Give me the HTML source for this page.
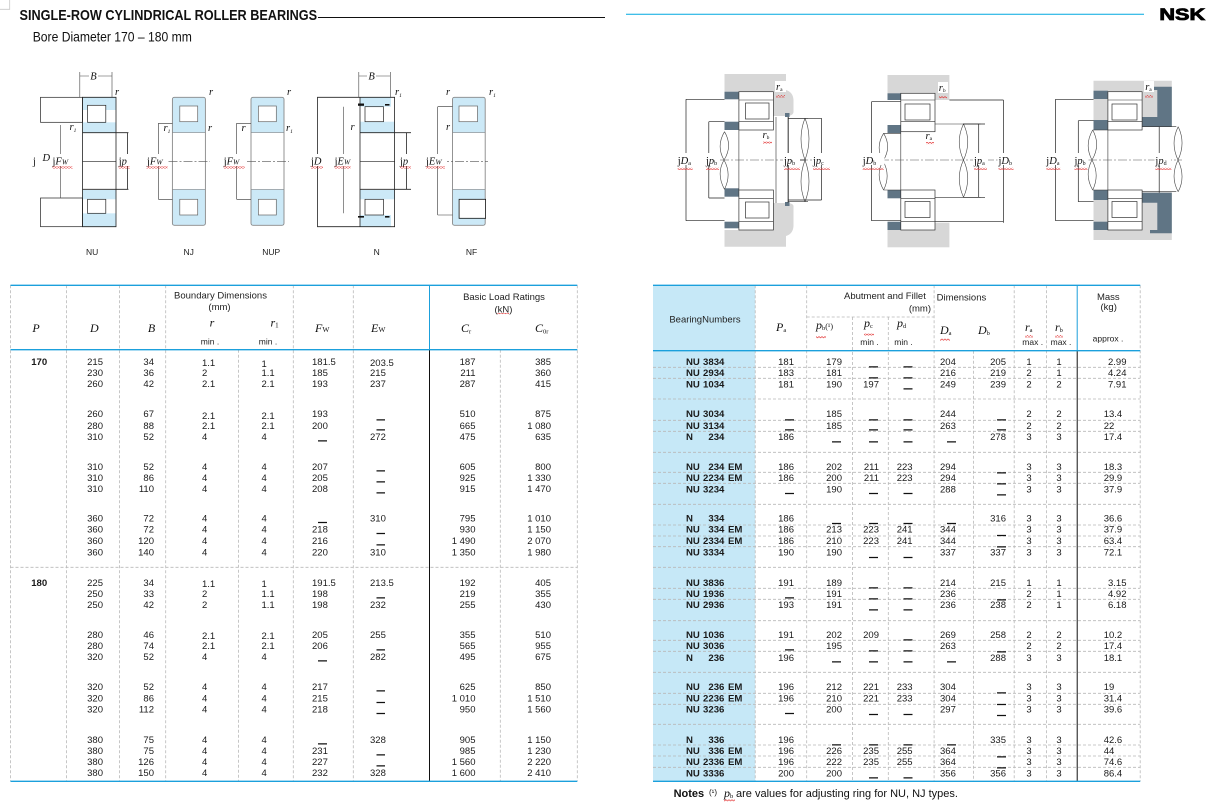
<!DOCTYPE html>
<html><head><meta charset="utf-8">
<style>
html,body{margin:0;padding:0;background:#fff;}
body{width:1206px;height:805px;overflow:hidden;position:relative;}
svg{position:absolute;left:0;top:0;}
.n{font-family:"Liberation Sans",Arial,sans-serif;font-size:9.5px;fill:#1a1a1a;}
.b{font-family:"Liberation Sans",Arial,sans-serif;font-size:9.6px;font-weight:bold;fill:#1a1a1a;}
.s{font-family:"Liberation Serif",serif;font-style:italic;font-size:12px;fill:#111;}
.h{font-family:"Liberation Sans",Arial,sans-serif;font-size:9.5px;fill:#222;}
.m{font-family:"Liberation Sans",Arial,sans-serif;font-size:8.5px;fill:#222;}
.lb{font-family:"Liberation Serif",serif;font-size:10.5px;fill:#111;}
.it{font-style:italic;}
.dg{font-family:"Liberation Sans",Arial,sans-serif;font-size:8.5px;fill:#222;}
</style></head><body>
<svg width="1206" height="805" viewBox="0 0 1206 805">
<defs>
<pattern id="wv" width="3" height="2.4" patternUnits="userSpaceOnUse"><path d="M0 0.5L1.5 1.9L3 0.5" fill="none" stroke="#e02020" stroke-width="0.6"/></pattern>
</defs>

<!-- corner mark -->
<path d="M9.7 0V9.3H0" fill="none" stroke="#c8c8c8" stroke-width="0.8"/>

<!-- Title -->
<text transform="translate(19.5,20) scale(0.875,1)" font-family="Liberation Sans, Arial, sans-serif" font-size="14.5" font-weight="bold" fill="#111">SINGLE-ROW CYLINDRICAL ROLLER BEARINGS</text>
<line x1="318" y1="17.5" x2="605" y2="17.5" stroke="#111" stroke-width="1"/>
<text transform="translate(32.7,41.7) scale(0.9,1)" font-family="Liberation Sans, Arial, sans-serif" font-size="13.5" fill="#111">Bore Diameter  170 – 180 mm</text>

<line x1="626" y1="14.3" x2="1144" y2="14.3" stroke="#00a8e0" stroke-width="1"/>
<text transform="translate(1159.4,20) scale(1.33,1)" font-family="Liberation Sans, Arial, sans-serif" font-size="16.3" font-weight="bold" fill="#000" stroke="#000" stroke-width="0.8">NSK</text>

<!-- ============ LEFT DIAGRAMS ============ -->
<!-- NU -->
<g>
<rect x="79.8" y="97.3" width="36.2" height="12.7" fill="#cce9f7"/>
<rect x="82.5" y="122.3" width="33.5" height="10.4" fill="#cce9f7"/>
<rect x="82.5" y="190" width="33.5" height="9.3" fill="#cce9f7"/>
<rect x="79.8" y="213.3" width="36.2" height="13.4" fill="#cce9f7"/>
<g fill="#fff" stroke="#222" stroke-width="0.7">
<rect x="87.5" y="105.3" width="18.3" height="17"/>
<rect x="87.5" y="199.3" width="18.3" height="14"/>
<rect x="40.5" y="97.3" width="42" height="25"/>
<rect x="40.5" y="198" width="42" height="28.7"/>
</g>
<path d="M82.5 97.3H116V226.7H82.5ZM82.5 132.7H128.4M82.5 189.3H128.4M127.6 132.7V189.3" fill="none" stroke="#222" stroke-width="0.8"/>
<path d="M82.5 161.3H116" stroke="#222" stroke-width="0.6"/>
<path d="M60.3 125V198M79.8 72V97M112 72V97M79.8 76H112" fill="none" stroke="#444" stroke-width="0.6"/>
<rect x="89" y="70" width="9" height="11" fill="#fff"/>
<text x="93.4" y="79.5" class="lb it" text-anchor="middle">B</text>
<text x="115" y="95" class="lb it" font-size="7.5">r</text>
<text x="69.5" y="130" class="lb it" font-size="7.5">r<tspan font-size="5.5" dy="2">1</tspan></text>
<rect x="31" y="154" width="44" height="12" fill="#fff"/>
<text x="33" y="164.5" class="lb">j</text>
<text x="42.5" y="161" class="lb it" font-size="7">D</text>
<text x="52.5" y="164.5" class="lb">j<tspan class="it">F</tspan><tspan class="it" font-size="7.5">W</tspan></text>
<rect x="117" y="154" width="12" height="12" fill="#fff"/>
<text x="118.7" y="164.5" class="lb">j<tspan class="it">p</tspan></text>
<rect x="52.5" y="166.5" width="20" height="2.4" fill="url(#wv)"/>
<rect x="118.7" y="166.5" width="11" height="2.4" fill="url(#wv)"/>
</g>

<!-- NJ -->
<g>
<rect x="172.4" y="97.3" width="33" height="35.4" fill="#cce9f7"/>
<rect x="172.4" y="189.3" width="33" height="36" fill="#cce9f7"/>
<g fill="#fff" stroke="#666" stroke-width="0.7">
<rect x="179.8" y="106" width="17.9" height="15.7"/>
<rect x="179.8" y="199.3" width="17.9" height="15.7"/>
</g>
<rect x="172.4" y="97.3" width="33" height="128" rx="2" fill="none" stroke="#888" stroke-width="0.9"/>
<path d="M172.4 132.7H205.4M172.4 189.3H205.4" stroke="#888" stroke-width="0.6"/>
<path d="M168.5 161.3H210" stroke="#555" stroke-width="0.6" stroke-dasharray="9,2,2,2"/>
<path d="M158.4 123.3V199.3M158.4 123.3H172.4M158.4 199.3H172.4" fill="none" stroke="#333" stroke-width="0.6"/>
<text x="209" y="95" class="lb it" font-size="7.5">r</text>
<text x="163.5" y="131" class="lb it" font-size="7.5">r<tspan font-size="5.5" dy="2">1</tspan></text>
<text x="208" y="131" class="lb it" font-size="7.5">r</text>
<rect x="146" y="154" width="22" height="12" fill="#fff"/>
<text x="147" y="164.5" class="lb">j<tspan class="it">F</tspan><tspan class="it" font-size="7.5">W</tspan></text>
<rect x="146.6" y="166.5" width="21" height="2.4" fill="url(#wv)"/>
</g>

<!-- NUP -->
<g>
<rect x="251" y="97.3" width="33" height="35.4" fill="#cce9f7"/>
<rect x="251" y="189.3" width="33" height="36" fill="#cce9f7"/>
<g fill="#fff" stroke="#666" stroke-width="0.7">
<rect x="258.4" y="106" width="17.9" height="15.7"/>
<rect x="258.4" y="199.3" width="17.9" height="15.7"/>
</g>
<rect x="251" y="97.3" width="33" height="128" rx="2" fill="none" stroke="#888" stroke-width="0.9"/>
<path d="M251 132.7H284M251 189.3H284" stroke="#888" stroke-width="0.6"/>
<path d="M247 161.3H289" stroke="#555" stroke-width="0.6" stroke-dasharray="9,2,2,2"/>
<path d="M236.6 123.3V199.3M236.6 123.3H251M236.6 199.3H251" fill="none" stroke="#333" stroke-width="0.6"/>
<text x="287" y="95" class="lb it" font-size="7.5">r</text>
<text x="241.5" y="131" class="lb it" font-size="7.5">r</text>
<text x="286" y="131" class="lb it" font-size="7.5">r<tspan font-size="5.5" dy="2">1</tspan></text>
<rect x="222.5" y="154" width="23" height="12" fill="#fff"/>
<text x="223.7" y="164.5" class="lb">j<tspan class="it">F</tspan><tspan class="it" font-size="7.5">W</tspan></text>
<rect x="223.7" y="166.5" width="21" height="2.4" fill="url(#wv)"/>
</g>

<!-- N -->
<g>
<rect x="360" y="97.3" width="31" height="9.4" fill="#cce9f7"/>
<rect x="360" y="121.7" width="34.6" height="11" fill="#cce9f7"/>
<rect x="360" y="190" width="34.6" height="9.3" fill="#cce9f7"/>
<rect x="360" y="215" width="31" height="11.7" fill="#cce9f7"/>
<g fill="#fff" stroke="#222" stroke-width="0.7">
<rect x="365" y="106.7" width="18.5" height="15"/>
<rect x="365" y="199.3" width="18.5" height="15.7"/>
</g>
<path d="M317.5 97.3H394.6V226.7H317.5ZM360 97.3V226.7M360 132.7H411M360 189.3H411M406.6 132.7V189.3" fill="none" stroke="#222" stroke-width="0.8"/>
<path d="M360 161.3H394.6" stroke="#222" stroke-width="0.6"/>
<rect x="358" y="103.5" width="6" height="2.3" fill="#111"/>
<rect x="385" y="104" width="4.5" height="1.6" fill="#111"/>
<rect x="358" y="216" width="6" height="1.6" fill="#111"/>
<rect x="385" y="216" width="4.5" height="1.6" fill="#111"/>
<path d="M343.6 106.7V213.3M358.8 72V97M390.3 72V97M358.8 76H390.3" fill="none" stroke="#444" stroke-width="0.6"/>
<rect x="367" y="70" width="9" height="11" fill="#fff"/>
<text x="371.6" y="79.5" class="lb it" text-anchor="middle">B</text>
<text x="395" y="95" class="lb it" font-size="7.5">r<tspan font-size="5.5" dy="2">1</tspan></text>
<text x="350.5" y="130" class="lb it" font-size="7.5">r</text>
<rect x="310" y="154" width="42" height="12" fill="#fff"/>
<text x="311" y="164.5" class="lb">j<tspan class="it">D</tspan></text>
<text x="334.6" y="164.5" class="lb">j<tspan class="it">E</tspan><tspan class="it" font-size="7.5">W</tspan></text>
<rect x="399" y="154" width="12" height="12" fill="#fff"/>
<text x="400" y="164.5" class="lb">j<tspan class="it">p</tspan></text>
<rect x="311" y="166.5" width="12" height="2.4" fill="url(#wv)"/>
<rect x="334.6" y="166.5" width="16" height="2.4" fill="url(#wv)"/>
<rect x="400" y="166.5" width="11" height="2.4" fill="url(#wv)"/>
</g>

<!-- NF -->
<g>
<rect x="452.5" y="97.3" width="32.7" height="35.4" fill="#cce9f7"/>
<rect x="452.5" y="189.3" width="32.7" height="36" fill="#cce9f7"/>
<rect x="459" y="106" width="18.5" height="15.7" fill="#fff" stroke="#666" stroke-width="0.7"/>
<rect x="452.5" y="97.3" width="32.7" height="128" rx="2" fill="none" stroke="#888" stroke-width="0.9"/>
<rect x="459.1" y="199.3" width="26.5" height="19" fill="#fff" stroke="#111" stroke-width="0.8"/>
<path d="M452.5 132.7H485.2M452.5 189.3H485.2" stroke="#888" stroke-width="0.6"/>
<path d="M440 161.3H488" stroke="#555" stroke-width="0.6" stroke-dasharray="9,2,2,2"/>
<path d="M437.7 106.7V215M437.7 106.7H452.5M437.7 215H452.5" fill="none" stroke="#333" stroke-width="0.6"/>
<text x="446" y="95" class="lb it" font-size="7.5">r</text>
<text x="489" y="95" class="lb it" font-size="7.5">r<tspan font-size="5.5" dy="2">1</tspan></text>
<text x="446" y="130" class="lb it" font-size="7.5">r</text>
<rect x="425" y="154" width="22" height="12" fill="#fff"/>
<text x="426" y="164.5" class="lb">j<tspan class="it">E</tspan><tspan class="it" font-size="7.5">W</tspan></text>
<rect x="426" y="166.5" width="19" height="2.4" fill="url(#wv)"/>
</g>

<text x="92.2" y="255" class="dg" text-anchor="middle">NU</text>
<text x="188.7" y="255" class="dg" text-anchor="middle">NJ</text>
<text x="271.2" y="255" class="dg" text-anchor="middle">NUP</text>
<text x="376.7" y="255" class="dg" text-anchor="middle">N</text>
<text x="471.6" y="255" class="dg" text-anchor="middle">NF</text>

<!-- ============ RIGHT DIAGRAMS ============ -->
<!-- D1 -->
<g>
<path fill="#d7d7d7" d="M724.5 74H786V90Q793 92 793.5 100V112Q793 116 786 116H773.4V91.7H724.5Z"/>
<path fill="#d7d7d7" d="M724.5 246.7H786V236Q793 234 793.5 226V206Q793 203 786 203H773.4V230H724.5Z"/>
<g fill="#607585">
<rect x="724.5" y="91.7" width="14.4" height="7.6"/>
<rect x="724.5" y="121.7" width="14.4" height="8.3"/>
<rect x="724.5" y="188.3" width="14.4" height="8.4"/>
<rect x="724.5" y="221.7" width="14.4" height="6.6"/>
<rect x="785" y="113" width="4.5" height="4" />
<rect x="785" y="202" width="4.5" height="4" />
</g>
<g fill="#fff" stroke="#333" stroke-width="0.7">
<rect x="738.9" y="91.7" width="34.5" height="38.3"/>
<rect x="745.5" y="103" width="23.5" height="16"/>
<rect x="738.9" y="190" width="34.5" height="40"/>
<rect x="745.5" y="202" width="23.5" height="16"/>
</g>
<path d="M738.9 100H773.4M738.9 121.7H773.4M738.9 198.3H773.4M738.9 221.7H773.4M738.9 130V190M776 117V203M788 117V203M788 118.3H808M788 201.7H808" fill="none" stroke="#333" stroke-width="0.6"/>
<path d="M724.5 131.7Q716 146 724 160Q732 174 724.5 189.3M724.5 131.7Q733 146 724 160Q716 174 724.5 189.3M805 118.3Q797 138 805 160Q813 182 805 201.7M805 118.3Q813 138 805 160Q797 182 805 201.7" fill="none" stroke="#444" stroke-width="0.6"/>
<path d="M720 160H821" stroke="#555" stroke-width="0.6" stroke-dasharray="9,2,2,2"/>
<path d="M686 99.3V220.7M686 99.3H724.5M686 220.7H724.5M708.8 121.7V198M708.8 121.7H724.5M708.8 198H724.5M788.3 117V201.7M821.5 118.3V200M788.3 118.3H821.5M788.3 200H821.5M800 160H806" fill="none" stroke="#222" stroke-width="0.7"/>
<rect x="676" y="153" width="18" height="12" fill="#fff"/>
<text x="677.7" y="164" class="lb">j<tspan class="it">D</tspan><tspan font-size="6" dy="1">a</tspan></text>
<rect x="705" y="153" width="15" height="12" fill="#fff"/>
<text x="706" y="164" class="lb">j<tspan class="it">p</tspan><tspan font-size="6" dy="1">b</tspan></text>
<rect x="783" y="153" width="17" height="12" fill="#fff"/>
<text x="784" y="164" class="lb">j<tspan class="it">p</tspan><tspan font-size="6" dy="1">b</tspan></text>
<rect x="812" y="153" width="18" height="12" fill="#fff"/>
<text x="813" y="164" class="lb">j<tspan class="it">p</tspan><tspan font-size="6" dy="1">c</tspan></text>
<rect x="775" y="81" width="11" height="11" fill="#fff"/>
<text x="776" y="90" class="lb it" font-size="9">r<tspan font-size="5.5" dy="1" font-style="normal">a</tspan></text>
<text x="762.5" y="138" class="lb it" font-size="9">r<tspan font-size="5.5" dy="1" font-style="normal">b</tspan></text>
<rect x="677.7" y="167.5" width="15" height="2.4" fill="url(#wv)"/>
<rect x="706" y="167.5" width="13" height="2.4" fill="url(#wv)"/>
<rect x="784" y="167.5" width="16" height="2.4" fill="url(#wv)"/>
<rect x="813" y="167.5" width="17" height="2.4" fill="url(#wv)"/>
<rect x="776" y="95" width="9" height="2.4" fill="url(#wv)"/>
<rect x="763" y="141" width="9" height="2.4" fill="url(#wv)"/>
</g>

<!-- D2 -->
<g>
<rect x="887.5" y="75" width="61.9" height="25" fill="#d7d7d7"/>
<rect x="887.5" y="222.7" width="61.9" height="24.6" fill="#d7d7d7"/>
<g fill="#607585">
<rect x="887.5" y="93.3" width="13.3" height="6.7"/>
<rect x="887.5" y="125" width="13.3" height="8.3"/>
<rect x="887.5" y="190" width="13.3" height="8.3"/>
<rect x="887.5" y="221.7" width="13.3" height="8.3"/>
</g>
<g fill="#fff" stroke="#333" stroke-width="0.7">
<rect x="900.8" y="93.3" width="34.2" height="38.4"/>
<rect x="905" y="104" width="25" height="16"/>
<rect x="900.8" y="190" width="34.2" height="40"/>
<rect x="905" y="201.5" width="25" height="16"/>
</g>
<path d="M900.8 100H935M900.8 121.7H935M900.8 198.3H935M900.8 221.7H935M900.8 131.7V190M935 124H980.6M935 197.3H980.6M883.6 133.3H900.8M883.6 190H900.8" fill="none" stroke="#333" stroke-width="0.6"/>
<path d="M883.6 133.3Q875 147 883 161Q891 175 883.6 190M883.6 133.3Q892 147 883 161Q875 175 883.6 190M963.5 124Q955 142 963.5 160Q972 178 963.5 197.3M963.5 124Q972 142 963.5 160Q955 178 963.5 197.3" fill="none" stroke="#444" stroke-width="0.6"/>
<path d="M880 160H1010" stroke="#555" stroke-width="0.6" stroke-dasharray="9,2,2,2"/>
<path d="M871.5 101.7V220.7M871.5 101.7H900.8M871.5 220.7H900.8M1003.4 100V222.7M949.4 100H1003.4M935 221.7H1003.4M978.7 124V197.3M963 124H985M963 197.3H985" fill="none" stroke="#222" stroke-width="0.7"/>
<rect x="861.5" y="153" width="23" height="12" fill="#fff"/>
<text x="862.7" y="164" class="lb">j<tspan class="it">D</tspan><tspan font-size="6" dy="1">b</tspan></text>
<rect x="973" y="153" width="15" height="12" fill="#fff"/>
<text x="974" y="164" class="lb">j<tspan class="it">p</tspan><tspan font-size="6" dy="1">a</tspan></text>
<rect x="997.5" y="153" width="17" height="12" fill="#fff"/>
<text x="998.5" y="164" class="lb">j<tspan class="it">D</tspan><tspan font-size="6" dy="1">b</tspan></text>
<rect x="938" y="82" width="10" height="11" fill="#fff"/>
<text x="938.8" y="91" class="lb it" font-size="9">r<tspan font-size="5.5" dy="1" font-style="normal">b</tspan></text>
<text x="925.5" y="139" class="lb it" font-size="9">r<tspan font-size="5.5" dy="1" font-style="normal">a</tspan></text>
<rect x="862.7" y="167.5" width="21" height="2.4" fill="url(#wv)"/>
<rect x="974" y="167.5" width="13" height="2.4" fill="url(#wv)"/>
<rect x="998.5" y="167.5" width="15" height="2.4" fill="url(#wv)"/>
<rect x="939" y="96" width="8" height="2.4" fill="url(#wv)"/>
<rect x="926" y="142" width="8" height="2.4" fill="url(#wv)"/>
</g>

<!-- D3 -->
<g>
<path fill="#d7d7d7" d="M1093.5 80.7H1171.8V126.7H1142V91.7H1107.9V130H1093.5Z"/>
<path fill="#d7d7d7" d="M1093.5 240H1171.8V191.7H1142V230H1107.9V190H1093.5Z"/>
<g fill="#607585">
<rect x="1093.5" y="90.7" width="14.4" height="8.3"/>
<rect x="1093.5" y="120" width="14.4" height="10"/>
<rect x="1093.5" y="190" width="14.4" height="10"/>
<rect x="1093.5" y="221.7" width="14.4" height="8.3"/>
<path d="M1150 86.7H1171.8V126.7H1142V117H1157.3V90H1150Z"/>
<path d="M1150 233.3H1171.8V192.7H1142V202.7H1157.3V230H1150Z"/>
</g>
<g fill="#fff" stroke="#333" stroke-width="0.7">
<rect x="1107.9" y="91.7" width="34.2" height="38.3"/>
<rect x="1112" y="104" width="25" height="16"/>
<rect x="1107.9" y="190" width="34.2" height="40"/>
<rect x="1112" y="201.5" width="25" height="16"/>
</g>
<path d="M1107.9 100H1142.1M1107.9 121.7H1142.1M1107.9 198.3H1142.1M1107.9 221.7H1142.1M1107.9 130V190M1142 126.7H1176.3M1142 191.7H1176.3M1092.7 130H1107.9M1092.7 190H1107.9" fill="none" stroke="#333" stroke-width="0.6"/>
<path d="M1092.7 130Q1084 145 1092 160Q1100 175 1092.7 190M1092.7 130Q1101 145 1092 160Q1084 175 1092.7 190M1178.2 126.7Q1170 143 1178 160Q1186 177 1178.2 191.7M1178.2 126.7Q1186 143 1178 160Q1170 177 1178.2 191.7" fill="none" stroke="#444" stroke-width="0.6"/>
<path d="M1088 160H1182" stroke="#555" stroke-width="0.6" stroke-dasharray="9,2,2,2"/>
<path d="M1055.5 99.3V220.7M1055.5 99.3H1093.5M1055.5 220.7H1093.5M1078.3 120.7V201.7M1078.3 120.7H1093.5M1078.3 201.7H1093.5M1159.2 126.7V192.7M1159.2 160H1172" fill="none" stroke="#222" stroke-width="0.7"/>
<rect x="1045" y="153" width="17" height="12" fill="#fff"/>
<text x="1046.3" y="164" class="lb">j<tspan class="it">D</tspan><tspan font-size="6" dy="1">a</tspan></text>
<rect x="1073.5" y="153" width="15" height="12" fill="#fff"/>
<text x="1074.5" y="164" class="lb">j<tspan class="it">p</tspan><tspan font-size="6" dy="1">b</tspan></text>
<rect x="1154.5" y="153" width="17" height="12" fill="#fff"/>
<text x="1155.4" y="164" class="lb">j<tspan class="it">p</tspan><tspan font-size="6" dy="1">d</tspan></text>
<rect x="1144" y="81" width="10" height="11" fill="#fff"/>
<text x="1145.2" y="90" class="lb it" font-size="9">r<tspan font-size="5.5" dy="1" font-style="normal">a</tspan></text>
<rect x="1046.3" y="167.5" width="14" height="2.4" fill="url(#wv)"/>
<rect x="1074.5" y="167.5" width="13" height="2.4" fill="url(#wv)"/>
<rect x="1155.4" y="167.5" width="16" height="2.4" fill="url(#wv)"/>
<rect x="1145" y="95" width="8" height="2.4" fill="url(#wv)"/>
</g>

<!-- ============ LEFT TABLE ============ -->
<g fill="none" stroke="#b8b8b8" stroke-width="0.8" stroke-dasharray="3,2">
<path d="M10.5 285.3V781.3M66.5 285.3V781.3M119.4 285.3V781.3M165.7 285.3V781.3M293.3 285.3V781.3M353.3 285.3V781.3M577.3 285.3V781.3M238.5 349.7V781.3M500.3 349.7V781.3M10.5 567.3H577.3"/>
</g>
<path d="M429.5 285.3V349.7" stroke="#1ba0dc" stroke-width="1"/>
<path d="M429.5 349.7V781.3" stroke="#111" stroke-width="1"/>
<path d="M10.5 285.3H577.3M10.5 349.7H577.3M10.5 781.3H577.3" stroke="#1ba0dc" stroke-width="1.3"/>

<text class="h" text-anchor="middle"><tspan x="220.5" y="298.5">Boundary Dimensions</tspan><tspan x="219.5" y="310">(mm)</tspan><tspan x="504" y="300">Basic Load Ratings</tspan><tspan x="503.5" y="312.4">(kN)</tspan></text>
<rect x="497" y="313" width="12" height="1.2" fill="url(#wv)"/>
<text class="s" text-anchor="middle"><tspan x="36" y="332">P</tspan><tspan x="94.3" y="332">D</tspan><tspan x="151.5" y="332">B</tspan><tspan x="212" y="326.5">r</tspan></text>
<text class="s" x="270.5" y="326.5">r<tspan font-size="7" dy="1" font-style="normal">1</tspan></text>
<text class="s" x="315" y="332">F<tspan font-size="7.5" dy="0" font-style="normal">W</tspan></text>
<text class="s" x="371" y="332">E<tspan font-size="7.5" dy="0" font-style="normal">W</tspan></text>
<text class="s" x="461" y="332">C<tspan font-size="6.5" dy="1.5" font-style="normal">r</tspan></text>
<text class="s" x="535" y="332">C<tspan font-size="6.5" dy="1.5" font-style="normal">0r</tspan></text>
<text class="m" text-anchor="middle"><tspan x="210" y="344.5">min .</tspan><tspan x="268" y="344.5">min .</tspan></text>

<text class="b" text-anchor="middle"><tspan x="39.2" y="365.1">170</tspan><tspan x="39.2" y="586.1">180</tspan></text>

<text class="n" text-anchor="end"><tspan x="103" y="365.1">215</tspan><tspan x="103" y="376.1">230</tspan><tspan x="103" y="387.1">260</tspan><tspan x="103" y="417.1">260</tspan><tspan x="103" y="429.1">280</tspan><tspan x="103" y="440.1">310</tspan><tspan x="103" y="470.1">310</tspan><tspan x="103" y="481.1">310</tspan><tspan x="103" y="492.1">310</tspan><tspan x="103" y="521.7">360</tspan><tspan x="103" y="532.7">360</tspan><tspan x="103" y="544.1">360</tspan><tspan x="103" y="555.7">360</tspan><tspan x="103" y="586.1">225</tspan><tspan x="103" y="597.1">250</tspan><tspan x="103" y="608.1">250</tspan><tspan x="103" y="638.1">280</tspan><tspan x="103" y="649.1">280</tspan><tspan x="103" y="660.1">320</tspan><tspan x="103" y="690.1">320</tspan><tspan x="103" y="701.7">320</tspan><tspan x="103" y="712.7">320</tspan><tspan x="103" y="743.1">380</tspan><tspan x="103" y="754.1">380</tspan><tspan x="103" y="765.1">380</tspan><tspan x="103" y="776.1">380</tspan></text>

<text class="n" text-anchor="end"><tspan x="154" y="365.1">34</tspan><tspan x="154" y="376.1">36</tspan><tspan x="154" y="387.1">42</tspan><tspan x="154" y="417.1">67</tspan><tspan x="154" y="429.1">88</tspan><tspan x="154" y="440.1">52</tspan><tspan x="154" y="470.1">52</tspan><tspan x="154" y="481.1">86</tspan><tspan x="154" y="492.1">110</tspan><tspan x="154" y="521.7">72</tspan><tspan x="154" y="532.7">72</tspan><tspan x="154" y="544.1">120</tspan><tspan x="154" y="555.7">140</tspan><tspan x="154" y="586.1">34</tspan><tspan x="154" y="597.1">33</tspan><tspan x="154" y="608.1">42</tspan><tspan x="154" y="638.1">46</tspan><tspan x="154" y="649.1">74</tspan><tspan x="154" y="660.1">52</tspan><tspan x="154" y="690.1">52</tspan><tspan x="154" y="701.7">86</tspan><tspan x="154" y="712.7">112</tspan><tspan x="154" y="743.1">75</tspan><tspan x="154" y="754.1">75</tspan><tspan x="154" y="765.1">126</tspan><tspan x="154" y="776.1">150</tspan></text>

<text class="n"><tspan x="202" y="366.1">1.1</tspan><tspan x="202" y="376.1">2</tspan><tspan x="202" y="387.1">2.1</tspan><tspan x="202" y="419.1">2.1</tspan><tspan x="202" y="429.1">2.1</tspan><tspan x="202" y="440.1">4</tspan><tspan x="202" y="470.1">4</tspan><tspan x="202" y="481.1">4</tspan><tspan x="202" y="492.1">4</tspan><tspan x="202" y="521.7">4</tspan><tspan x="202" y="532.7">4</tspan><tspan x="202" y="544.1">4</tspan><tspan x="202" y="555.7">4</tspan><tspan x="202" y="587.1">1.1</tspan><tspan x="202" y="597.1">2</tspan><tspan x="202" y="608.1">2</tspan><tspan x="202" y="639.1">2.1</tspan><tspan x="202" y="649.1">2.1</tspan><tspan x="202" y="660.1">4</tspan><tspan x="202" y="690.1">4</tspan><tspan x="202" y="701.7">4</tspan><tspan x="202" y="712.7">4</tspan><tspan x="202" y="743.1">4</tspan><tspan x="202" y="754.1">4</tspan><tspan x="202" y="765.1">4</tspan><tspan x="202" y="776.1">4</tspan></text>

<text class="n"><tspan x="261.5" y="367.1">1</tspan><tspan x="261.5" y="376.1">1.1</tspan><tspan x="261.5" y="387.1">2.1</tspan><tspan x="261.5" y="419.1">2.1</tspan><tspan x="261.5" y="429.1">2.1</tspan><tspan x="261.5" y="440.1">4</tspan><tspan x="261.5" y="470.1">4</tspan><tspan x="261.5" y="481.1">4</tspan><tspan x="261.5" y="492.1">4</tspan><tspan x="261.5" y="521.7">4</tspan><tspan x="261.5" y="532.7">4</tspan><tspan x="261.5" y="544.1">4</tspan><tspan x="261.5" y="555.7">4</tspan><tspan x="261.5" y="587.1">1</tspan><tspan x="261.5" y="597.1">1.1</tspan><tspan x="261.5" y="608.1">1.1</tspan><tspan x="261.5" y="639.1">2.1</tspan><tspan x="261.5" y="649.1">2.1</tspan><tspan x="261.5" y="660.1">4</tspan><tspan x="261.5" y="690.1">4</tspan><tspan x="261.5" y="701.7">4</tspan><tspan x="261.5" y="712.7">4</tspan><tspan x="261.5" y="743.1">4</tspan><tspan x="261.5" y="754.1">4</tspan><tspan x="261.5" y="765.1">4</tspan><tspan x="261.5" y="776.1">4</tspan></text>

<text class="n"><tspan x="312" y="365.1">181.5</tspan><tspan x="312" y="376.1">185</tspan><tspan x="312" y="387.1">193</tspan><tspan x="312" y="417.1">193</tspan><tspan x="312" y="429.1">200</tspan><tspan x="312" y="470.1">207</tspan><tspan x="312" y="481.1">205</tspan><tspan x="312" y="492.1">208</tspan><tspan x="312" y="532.7">218</tspan><tspan x="312" y="544.1">216</tspan><tspan x="312" y="555.7">220</tspan><tspan x="312" y="586.1">191.5</tspan><tspan x="312" y="597.1">198</tspan><tspan x="312" y="608.1">198</tspan><tspan x="312" y="638.1">205</tspan><tspan x="312" y="649.1">206</tspan><tspan x="312" y="690.1">217</tspan><tspan x="312" y="701.7">215</tspan><tspan x="312" y="712.7">218</tspan><tspan x="312" y="754.1">231</tspan><tspan x="312" y="765.1">227</tspan><tspan x="312" y="776.1">232</tspan></text>

<text class="n"><tspan x="370" y="366.1">203.5</tspan><tspan x="370" y="376.1">215</tspan><tspan x="370" y="387.1">237</tspan><tspan x="370" y="440.1">272</tspan><tspan x="370" y="521.7">310</tspan><tspan x="370" y="555.7">310</tspan><tspan x="370" y="586.1">213.5</tspan><tspan x="370" y="608.1">232</tspan><tspan x="370" y="638.1">255</tspan><tspan x="370" y="660.1">282</tspan><tspan x="370" y="743.1">328</tspan><tspan x="370" y="776.1">328</tspan></text>

<text class="n" text-anchor="end"><tspan x="475.5" y="365.1">187</tspan><tspan x="475.5" y="376.1">211</tspan><tspan x="475.5" y="387.1">287</tspan><tspan x="475.5" y="417.1">510</tspan><tspan x="475.5" y="429.1">665</tspan><tspan x="475.5" y="440.1">475</tspan><tspan x="475.5" y="470.1">605</tspan><tspan x="475.5" y="481.1">925</tspan><tspan x="475.5" y="492.1">915</tspan><tspan x="475.5" y="521.7">795</tspan><tspan x="475.5" y="532.7">930</tspan><tspan x="475.5" y="544.1">1 490</tspan><tspan x="475.5" y="555.7">1 350</tspan><tspan x="475.5" y="586.1">192</tspan><tspan x="475.5" y="597.1">219</tspan><tspan x="475.5" y="608.1">255</tspan><tspan x="475.5" y="638.1">355</tspan><tspan x="475.5" y="649.1">565</tspan><tspan x="475.5" y="660.1">495</tspan><tspan x="475.5" y="690.1">625</tspan><tspan x="475.5" y="701.7">1 010</tspan><tspan x="475.5" y="712.7">950</tspan><tspan x="475.5" y="743.1">905</tspan><tspan x="475.5" y="754.1">985</tspan><tspan x="475.5" y="765.1">1 560</tspan><tspan x="475.5" y="776.1">1 600</tspan></text>

<text class="n" text-anchor="end"><tspan x="551" y="365.1">385</tspan><tspan x="551" y="376.1">360</tspan><tspan x="551" y="387.1">415</tspan><tspan x="551" y="417.1">875</tspan><tspan x="551" y="429.1">1 080</tspan><tspan x="551" y="440.1">635</tspan><tspan x="551" y="470.1">800</tspan><tspan x="551" y="481.1">1 330</tspan><tspan x="551" y="492.1">1 470</tspan><tspan x="551" y="521.7">1 010</tspan><tspan x="551" y="532.7">1 150</tspan><tspan x="551" y="544.1">2 070</tspan><tspan x="551" y="555.7">1 980</tspan><tspan x="551" y="586.1">405</tspan><tspan x="551" y="597.1">355</tspan><tspan x="551" y="608.1">430</tspan><tspan x="551" y="638.1">510</tspan><tspan x="551" y="649.1">955</tspan><tspan x="551" y="660.1">675</tspan><tspan x="551" y="690.1">850</tspan><tspan x="551" y="701.7">1 510</tspan><tspan x="551" y="712.7">1 560</tspan><tspan x="551" y="743.1">1 150</tspan><tspan x="551" y="754.1">1 230</tspan><tspan x="551" y="765.1">2 220</tspan><tspan x="551" y="776.1">2 410</tspan></text>

<g stroke="#111" stroke-width="1.2">
<path d="M318 440.9h9M318 522.5h9M318 660.9h9M318 743.9h9"/>
<path d="M376.5 419.9h8.5M376.5 429.9h8.5M376.5 470.9h8.5M376.5 481.9h8.5M376.5 492.9h8.5M376.5 533.5h8.5M376.5 544.9h8.5M376.5 597.9h8.5M376.5 649.9h8.5M376.5 690.9h8.5M376.5 702.5h8.5M376.5 713.5h8.5M376.5 754.9h8.5M376.5 765.9h8.5"/>
</g>

<!-- ============ RIGHT TABLE ============ -->
<rect x="653" y="285.3" width="102.2" height="496" fill="#c6e8f7"/>
<g fill="none" stroke="#b8b8b8" stroke-width="0.8" stroke-dasharray="3,2">
<path d="M755.2 285.3V781.3M806.7 285.3V781.3M934.1 285.3V781.3M1014.2 285.3V781.3M1046.4 285.3V781.3M1140.2 285.3V781.3M852.5 317V781.3M888.3 317V781.3M973.4 350.7V781.3M806.7 317H934.1"/>
<path d="M653 367.3H1140.2M653 378.3H1140.2M653 399H1140.2M653 420.3H1140.2M653 431.3H1140.2M653 452.3H1140.2M653 472.3H1140.2M653 483.3H1140.2M653 504.3H1140.2M653 525H1140.2M653 536H1140.2M653 546.7H1140.2M653 567.3H1140.2M653 588.3H1140.2M653 599.3H1140.2M653 620.7H1140.2M653 640.3H1140.2M653 651.3H1140.2M653 672.3H1140.2M653 693.3H1140.2M653 704.3H1140.2M653 724.3H1140.2M653 745H1140.2M653 756H1140.2M653 767.3H1140.2"/>
</g>
<path d="M1077.2 285.3V350.7" stroke="#1ba0dc" stroke-width="1"/>
<path d="M1077.2 350.7V781.3" stroke="#111" stroke-width="1"/>
<path d="M653 285.3H1140.2M653 350.7H1140.2M653 781.3H1140.2" stroke="#1ba0dc" stroke-width="1.3"/>

<text class="h" text-anchor="middle"><tspan x="705" y="322.4">BearingNumbers</tspan><tspan x="1108.3" y="300">Mass</tspan><tspan x="1108.7" y="310">(kg)</tspan></text>
<text class="h" font-size="10"><tspan x="844" y="299">Abutment and Fillet</tspan><tspan x="936.6" y="300.4">Dimensions</tspan></text>
<text class="h" font-size="10" text-anchor="end" x="931" y="311.4">(mm)</text>
<text class="m" text-anchor="middle"><tspan x="869.5" y="345">min .</tspan><tspan x="903.5" y="345">min .</tspan><tspan x="1032.7" y="345">max .</tspan><tspan x="1061" y="345">max .</tspan><tspan x="1108" y="341.4">approx .</tspan></text>
<text class="s" x="776" y="331">P<tspan font-size="6.5" dy="1" font-style="normal">a</tspan></text>
<text class="s" x="816" y="329">p<tspan font-size="6.5" dy="1" font-style="normal">b</tspan><tspan font-size="8" dy="-1" font-style="normal">(¹)</tspan></text>
<text class="s" x="864" y="327">p<tspan font-size="6.5" dy="1" font-style="normal">c</tspan></text>
<text class="s" x="897" y="327">p<tspan font-size="6.5" dy="1" font-style="normal">d</tspan></text>
<text class="s" x="940" y="334">D<tspan font-size="6.5" dy="1" font-style="normal">a</tspan></text>
<text class="s" x="978" y="334">D<tspan font-size="6.5" dy="1" font-style="normal">b</tspan></text>
<text class="s" x="1025" y="331">r<tspan font-size="6.5" dy="1" font-style="normal">a</tspan></text>
<text class="s" x="1055" y="331">r<tspan font-size="6.5" dy="1" font-style="normal">b</tspan></text>
<rect x="816" y="336" width="10" height="2.4" fill="url(#wv)"/>
<rect x="864" y="333" width="10" height="2.4" fill="url(#wv)"/>
<rect x="940" y="338.5" width="10" height="2.4" fill="url(#wv)"/>
<rect x="1025" y="335" width="8" height="2.4" fill="url(#wv)"/>
<rect x="1055" y="335" width="8" height="2.4" fill="url(#wv)"/>

<text class="b"><tspan x="686" y="365.1">NU</tspan><tspan x="686" y="376.1">NU</tspan><tspan x="686" y="387.7">NU</tspan><tspan x="686" y="417.1">NU</tspan><tspan x="686" y="429.1">NU</tspan><tspan x="686" y="440.1">N</tspan><tspan x="686" y="470.1">NU</tspan><tspan x="686" y="481.1">NU</tspan><tspan x="686" y="492.7">NU</tspan><tspan x="686" y="521.7">N</tspan><tspan x="686" y="532.7">NU</tspan><tspan x="686" y="544.1">NU</tspan><tspan x="686" y="555.7">NU</tspan><tspan x="686" y="586.1">NU</tspan><tspan x="686" y="597.1">NU</tspan><tspan x="686" y="608.1">NU</tspan><tspan x="686" y="638.1">NU</tspan><tspan x="686" y="649.1">NU</tspan><tspan x="686" y="661.1">N</tspan><tspan x="686" y="690.1">NU</tspan><tspan x="686" y="701.7">NU</tspan><tspan x="686" y="712.7">NU</tspan><tspan x="686" y="743.1">N</tspan><tspan x="686" y="754.1">NU</tspan><tspan x="686" y="765.1">NU</tspan><tspan x="686" y="776.7">NU</tspan></text>
<text class="b" text-anchor="end"><tspan x="724.4" y="365.1">3834</tspan><tspan x="724.4" y="376.1">2934</tspan><tspan x="724.4" y="387.7">1034</tspan><tspan x="724.4" y="417.1">3034</tspan><tspan x="724.4" y="429.1">3134</tspan><tspan x="724.4" y="440.1">234</tspan><tspan x="724.4" y="470.1">234</tspan><tspan x="724.4" y="481.1">2234</tspan><tspan x="724.4" y="492.7">3234</tspan><tspan x="724.4" y="521.7">334</tspan><tspan x="724.4" y="532.7">334</tspan><tspan x="724.4" y="544.1">2334</tspan><tspan x="724.4" y="555.7">3334</tspan><tspan x="724.4" y="586.1">3836</tspan><tspan x="724.4" y="597.1">1936</tspan><tspan x="724.4" y="608.1">2936</tspan><tspan x="724.4" y="638.1">1036</tspan><tspan x="724.4" y="649.1">3036</tspan><tspan x="724.4" y="661.1">236</tspan><tspan x="724.4" y="690.1">236</tspan><tspan x="724.4" y="701.7">2236</tspan><tspan x="724.4" y="712.7">3236</tspan><tspan x="724.4" y="743.1">336</tspan><tspan x="724.4" y="754.1">336</tspan><tspan x="724.4" y="765.1">2336</tspan><tspan x="724.4" y="776.7">3336</tspan></text>
<text class="b"><tspan x="728" y="470.1">EM</tspan><tspan x="728" y="481.1">EM</tspan><tspan x="728" y="532.7">EM</tspan><tspan x="728" y="544.1">EM</tspan><tspan x="728" y="690.1">EM</tspan><tspan x="728" y="701.7">EM</tspan><tspan x="728" y="754.1">EM</tspan><tspan x="728" y="765.1">EM</tspan></text>

<text class="n" text-anchor="end"><tspan x="794" y="365.1">181</tspan><tspan x="794" y="376.1">183</tspan><tspan x="794" y="387.7">181</tspan><tspan x="794" y="440.1">186</tspan><tspan x="794" y="470.1">186</tspan><tspan x="794" y="481.1">186</tspan><tspan x="794" y="521.7">186</tspan><tspan x="794" y="532.7">186</tspan><tspan x="794" y="544.1">186</tspan><tspan x="794" y="555.7">190</tspan><tspan x="794" y="586.1">191</tspan><tspan x="794" y="608.1">193</tspan><tspan x="794" y="638.1">191</tspan><tspan x="794" y="661.1">196</tspan><tspan x="794" y="690.1">196</tspan><tspan x="794" y="701.7">196</tspan><tspan x="794" y="743.1">196</tspan><tspan x="794" y="754.1">196</tspan><tspan x="794" y="765.1">196</tspan><tspan x="794" y="776.7">200</tspan></text>

<text class="n" text-anchor="end"><tspan x="842" y="365.1">179</tspan><tspan x="842" y="376.1">181</tspan><tspan x="842" y="387.7">190</tspan><tspan x="842" y="417.1">185</tspan><tspan x="842" y="429.1">185</tspan><tspan x="842" y="470.1">202</tspan><tspan x="842" y="481.1">200</tspan><tspan x="842" y="492.7">190</tspan><tspan x="842" y="532.7">213</tspan><tspan x="842" y="544.1">210</tspan><tspan x="842" y="555.7">190</tspan><tspan x="842" y="586.1">189</tspan><tspan x="842" y="597.1">191</tspan><tspan x="842" y="608.1">191</tspan><tspan x="842" y="638.1">202</tspan><tspan x="842" y="649.1">195</tspan><tspan x="842" y="690.1">212</tspan><tspan x="842" y="701.7">210</tspan><tspan x="842" y="712.7">200</tspan><tspan x="842" y="754.1">226</tspan><tspan x="842" y="765.1">222</tspan><tspan x="842" y="776.7">200</tspan></text>

<text class="n" text-anchor="end"><tspan x="879" y="387.7">197</tspan><tspan x="879" y="470.1">211</tspan><tspan x="879" y="481.1">211</tspan><tspan x="879" y="532.7">223</tspan><tspan x="879" y="544.1">223</tspan><tspan x="879" y="638.1">209</tspan><tspan x="879" y="690.1">221</tspan><tspan x="879" y="701.7">221</tspan><tspan x="879" y="754.1">235</tspan><tspan x="879" y="765.1">235</tspan></text>

<text class="n" text-anchor="end"><tspan x="912.6" y="470.1">223</tspan><tspan x="912.6" y="481.1">223</tspan><tspan x="912.6" y="532.7">241</tspan><tspan x="912.6" y="544.1">241</tspan><tspan x="912.6" y="690.1">233</tspan><tspan x="912.6" y="701.7">233</tspan><tspan x="912.6" y="754.1">255</tspan><tspan x="912.6" y="765.1">255</tspan></text>

<text class="n"><tspan x="940" y="365.1">204</tspan><tspan x="940" y="376.1">216</tspan><tspan x="940" y="387.7">249</tspan><tspan x="940" y="417.1">244</tspan><tspan x="940" y="429.1">263</tspan><tspan x="940" y="470.1">294</tspan><tspan x="940" y="481.1">294</tspan><tspan x="940" y="492.7">288</tspan><tspan x="940" y="532.7">344</tspan><tspan x="940" y="544.1">344</tspan><tspan x="940" y="555.7">337</tspan><tspan x="940" y="586.1">214</tspan><tspan x="940" y="597.1">236</tspan><tspan x="940" y="608.1">236</tspan><tspan x="940" y="638.1">269</tspan><tspan x="940" y="649.1">263</tspan><tspan x="940" y="690.1">304</tspan><tspan x="940" y="701.7">304</tspan><tspan x="940" y="712.7">297</tspan><tspan x="940" y="754.1">364</tspan><tspan x="940" y="765.1">364</tspan><tspan x="940" y="776.7">356</tspan></text>

<text class="n" text-anchor="end"><tspan x="1006" y="365.1">205</tspan><tspan x="1006" y="376.1">219</tspan><tspan x="1006" y="387.7">239</tspan><tspan x="1006" y="440.1">278</tspan><tspan x="1006" y="521.7">316</tspan><tspan x="1006" y="555.7">337</tspan><tspan x="1006" y="586.1">215</tspan><tspan x="1006" y="608.1">238</tspan><tspan x="1006" y="638.1">258</tspan><tspan x="1006" y="661.1">288</tspan><tspan x="1006" y="743.1">335</tspan><tspan x="1006" y="776.7">356</tspan></text>

<text class="n" text-anchor="middle"><tspan x="1029" y="365.1">1</tspan><tspan x="1029" y="376.1">2</tspan><tspan x="1029" y="387.7">2</tspan><tspan x="1029" y="417.1">2</tspan><tspan x="1029" y="429.1">2</tspan><tspan x="1029" y="440.1">3</tspan><tspan x="1029" y="470.1">3</tspan><tspan x="1029" y="481.1">3</tspan><tspan x="1029" y="492.7">3</tspan><tspan x="1029" y="521.7">3</tspan><tspan x="1029" y="532.7">3</tspan><tspan x="1029" y="544.1">3</tspan><tspan x="1029" y="555.7">3</tspan><tspan x="1029" y="586.1">1</tspan><tspan x="1029" y="597.1">2</tspan><tspan x="1029" y="608.1">2</tspan><tspan x="1029" y="638.1">2</tspan><tspan x="1029" y="649.1">2</tspan><tspan x="1029" y="661.1">3</tspan><tspan x="1029" y="690.1">3</tspan><tspan x="1029" y="701.7">3</tspan><tspan x="1029" y="712.7">3</tspan><tspan x="1029" y="743.1">3</tspan><tspan x="1029" y="754.1">3</tspan><tspan x="1029" y="765.1">3</tspan><tspan x="1029" y="776.7">3</tspan></text>

<text class="n" text-anchor="middle"><tspan x="1059" y="365.1">1</tspan><tspan x="1059" y="376.1">1</tspan><tspan x="1059" y="387.7">2</tspan><tspan x="1059" y="417.1">2</tspan><tspan x="1059" y="429.1">2</tspan><tspan x="1059" y="440.1">3</tspan><tspan x="1059" y="470.1">3</tspan><tspan x="1059" y="481.1">3</tspan><tspan x="1059" y="492.7">3</tspan><tspan x="1059" y="521.7">3</tspan><tspan x="1059" y="532.7">3</tspan><tspan x="1059" y="544.1">3</tspan><tspan x="1059" y="555.7">3</tspan><tspan x="1059" y="586.1">1</tspan><tspan x="1059" y="597.1">1</tspan><tspan x="1059" y="608.1">1</tspan><tspan x="1059" y="638.1">2</tspan><tspan x="1059" y="649.1">2</tspan><tspan x="1059" y="661.1">3</tspan><tspan x="1059" y="690.1">3</tspan><tspan x="1059" y="701.7">3</tspan><tspan x="1059" y="712.7">3</tspan><tspan x="1059" y="743.1">3</tspan><tspan x="1059" y="754.1">3</tspan><tspan x="1059" y="765.1">3</tspan><tspan x="1059" y="776.7">3</tspan></text>

<text class="n"><tspan x="1108" y="365.1">2.99</tspan><tspan x="1108" y="376.1">4.24</tspan><tspan x="1108" y="387.7">7.91</tspan><tspan x="1103.7" y="417.1">13.4</tspan><tspan x="1103.7" y="429.1">22</tspan><tspan x="1103.7" y="440.1">17.4</tspan><tspan x="1103.7" y="470.1">18.3</tspan><tspan x="1103.7" y="481.1">29.9</tspan><tspan x="1103.7" y="492.7">37.9</tspan><tspan x="1103.7" y="521.7">36.6</tspan><tspan x="1103.7" y="532.7">37.9</tspan><tspan x="1103.7" y="544.1">63.4</tspan><tspan x="1103.7" y="555.7">72.1</tspan><tspan x="1108" y="586.1">3.15</tspan><tspan x="1108" y="597.1">4.92</tspan><tspan x="1108" y="608.1">6.18</tspan><tspan x="1103.7" y="638.1">10.2</tspan><tspan x="1103.7" y="649.1">17.4</tspan><tspan x="1103.7" y="661.1">18.1</tspan><tspan x="1103.7" y="690.1">19</tspan><tspan x="1103.7" y="701.7">31.4</tspan><tspan x="1103.7" y="712.7">39.6</tspan><tspan x="1103.7" y="743.1">42.6</tspan><tspan x="1103.7" y="754.1">44</tspan><tspan x="1103.7" y="765.1">74.6</tspan><tspan x="1103.7" y="776.7">86.4</tspan></text>

<g stroke="#111" stroke-width="1.2">
<path d="M785 419.9h9M785 429.9h9M785 493.5h9M785 597.9h9M785 649.9h9M785 713.5h9"/>
<path d="M832 441.9h9M832 523.5h9M832 661.9h9M832 744.9h9"/>
<path d="M869 366.9h9M869 377.9h9M869 419.9h9M869 429.9h9M869 441.9h9M869 493.5h9M869 523.5h9M869 557.5h9M869 587.9h9M869 598.9h9M869 609.9h9M869 650.9h9M869 661.9h9M869 714.5h9M869 744.9h9M869 777.9h9"/>
<path d="M903.5 366.9h9M903.5 377.9h9M903.5 388.9h9M903.5 419.9h9M903.5 429.9h9M903.5 441.9h9M903.5 493.5h9M903.5 523.5h9M903.5 557.5h9M903.5 587.9h9M903.5 598.9h9M903.5 609.9h9M903.5 639.9h9M903.5 650.9h9M903.5 661.9h9M903.5 714.5h9M903.5 744.9h9M903.5 777.9h9"/>
<path d="M947 441.9h9M947 523.5h9M947 661.9h9M947 744.9h9"/>
<path d="M997 419.9h9M997 429.9h9M997 472.9h9M997 483.9h9M997 494.9h9M997 535.5h9M997 546.9h9M997 599.9h9M997 651.9h9M997 692.9h9M997 704.5h9M997 715.5h9M997 756.9h9M997 767.9h9"/>
</g>

<!-- Notes -->
<text x="673.6" y="797" font-family="Liberation Sans, Arial, sans-serif" font-size="11" font-weight="bold" fill="#111">Notes</text>
<text x="709" y="795" font-family="Liberation Sans, Arial, sans-serif" font-size="8" fill="#111">(¹)</text>
<text x="724" y="797" class="s" font-size="11">p<tspan font-size="6.5" dy="1" font-style="normal">b</tspan></text>
<text x="736" y="797" font-family="Liberation Sans, Arial, sans-serif" font-size="11" fill="#111">are values for adjusting ring for NU, NJ types.</text>
<rect x="724" y="799" width="11" height="2.4" fill="url(#wv)"/>
</svg>
</body></html>
